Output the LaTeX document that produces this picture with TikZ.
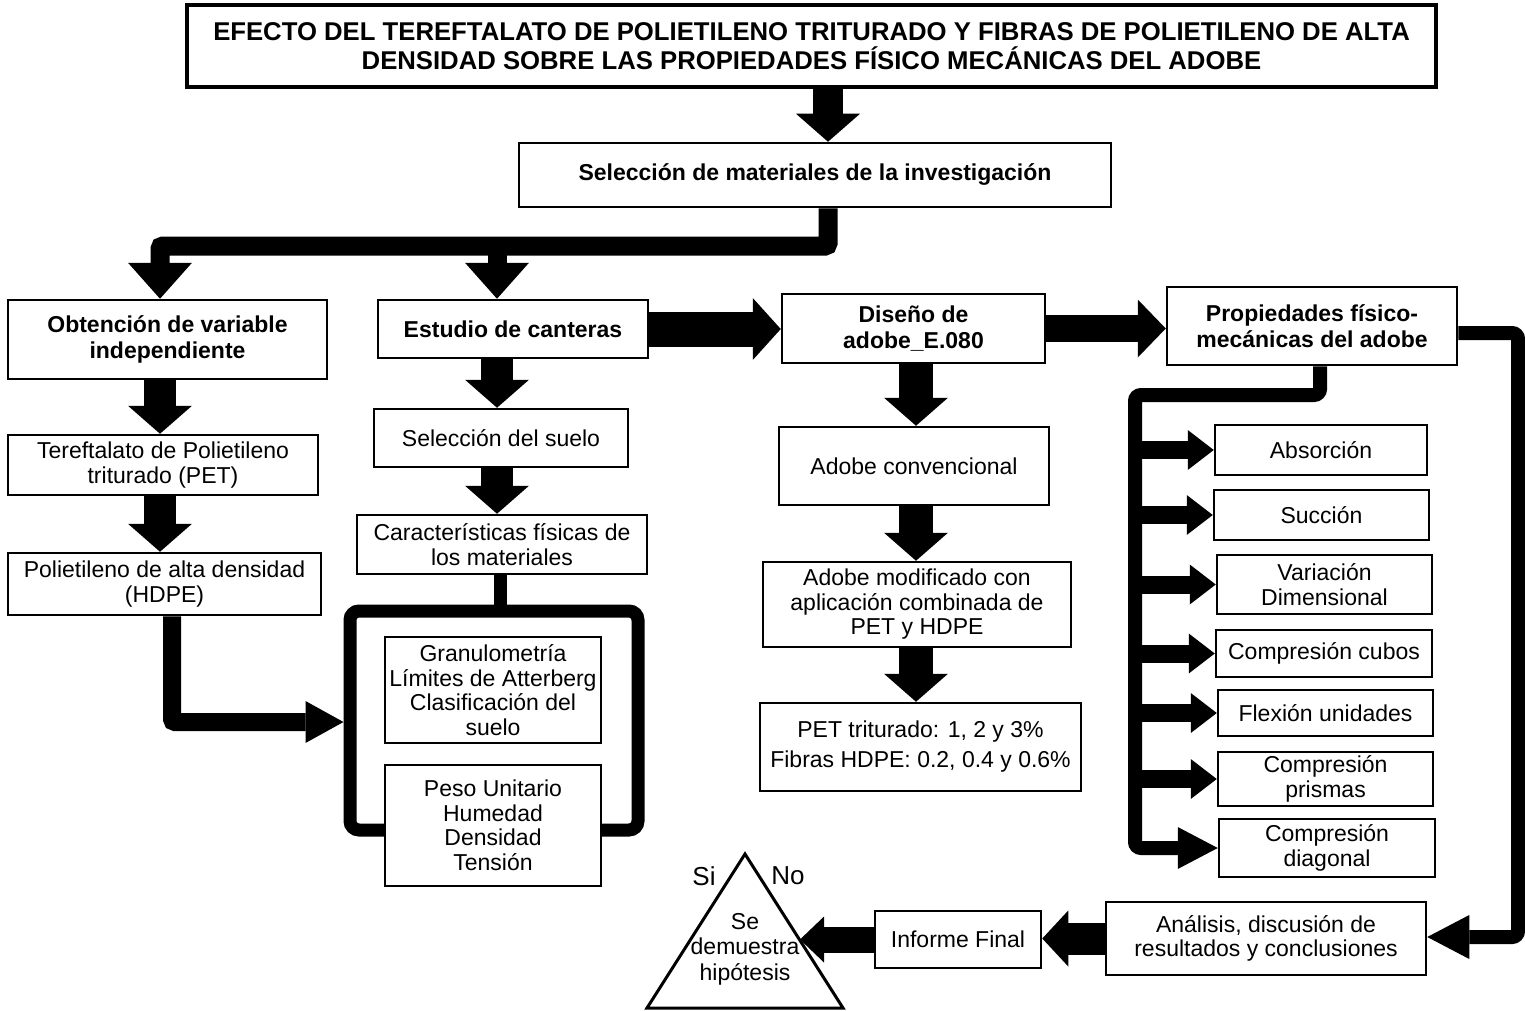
\documentclass[tikz,border=0pt]{standalone}
\usepackage{fontspec}
\setmainfont{Liberation Sans}
\usetikzlibrary{arrows.meta,calc}
\begin{document}
\begin{tikzpicture}[x=1pt,y=-1pt,
  box/.style={draw, line width=2.5pt, fill=white, align=center, inner sep=1pt,
    font=\fontsize{23}{24.5}\selectfont},
  bbox/.style={box, font=\bfseries\fontsize{23}{26}\selectfont},
  blk/.style={line width=34pt, -{Triangle[length=28pt,width=64pt,line width=0pt]}},
  bar/.style={line width=19pt, rounded corners=3pt, -{Triangle[length=36pt,width=64pt,line width=0pt]}},
  rline/.style={line width=14pt, rounded corners=6pt},
  sarr/.style={line width=18pt, -{Triangle[length=26pt,width=40pt,line width=0pt]}},
  lbl/.style={font=\fontsize{26}{28}\selectfont, inner sep=0pt}
]
\useasboundingbox (0,0) rectangle (1525,1011);

% column / row helpers
\coordinate (cT) at (828,0);
\coordinate (cL) at (160,0);
\coordinate (cLP) at (172,0);
\coordinate (cE) at (497,0);
\coordinate (cC) at (500,0);
\coordinate (cD) at (916,0);
\coordinate (cP) at (1320,0);
\coordinate (cB) at (1135,0);
\coordinate (cR) at (1518,0);
\coordinate (rBar) at (0,246);
\coordinate (rJ) at (0,722);
\coordinate (rB) at (0,395);
\coordinate (rPR) at (0,333);
\coordinate (rA) at (0,937);

% title and selection
\node[box, line width=4pt, font=\bfseries\fontsize{25.7}{29}\selectfont,
  minimum width=1249pt, minimum height=82pt] (title) at (811.5,46)
  {EFECTO DEL TEREFTALATO DE POLIETILENO TRITURADO Y FIBRAS DE POLIETILENO DE ALTA\\DENSIDAD SOBRE LAS PROPIEDADES FÍSICO MECÁNICAS DEL ADOBE};
\node[bbox, minimum width=592pt, minimum height=64pt] (sel) at (815,175)
  {Selección de materiales de la investigación};

% left column
\node[bbox, minimum width=319pt, minimum height=79pt] (obt) at (167.5,339.5)
  {Obtención de variable\\independiente};
\node[box, minimum width=310pt, minimum height=60pt] (ter) at (163,465)
  {Tereftalato de Polietileno\\triturado (PET)};
\node[box, minimum width=313pt, minimum height=62pt] (pol) at (164.5,584)
  {Polietileno de alta densidad\\(HDPE)};

% quarry column
\node[bbox, minimum width=270pt, minimum height=58pt] (est) at (513,329)
  {Estudio de canteras};
\node[box, minimum width=254pt, minimum height=58pt] (ssu) at (501,438)
  {Selección del suelo};
\node[box, minimum width=290pt, minimum height=59pt] (car) at (502,544.5)
  {Características físicas de\\los materiales};
\node[draw, line width=13pt, rounded corners=9pt, minimum width=288pt,
  minimum height=219pt, inner sep=0pt] (brk) at (494,720.5) {};
\node[box, minimum width=216pt, minimum height=106pt] (gra) at (493,690)
  {Granulometría\\Límites de Atterberg\\Clasificación del\\suelo};
\node[box, minimum width=216pt, minimum height=121pt] (pes) at (493,825.5)
  {Peso Unitario\\Humedad\\Densidad\\Tensión};

% design column
\node[bbox, minimum width=263pt, minimum height=69pt] (dis) at (913.5,328.5)
  {Diseño de\\adobe\_E.080};
\node[box, minimum width=270pt, minimum height=78pt] (conv) at (914,466)
  {Adobe convencional};
\node[box, minimum width=308pt, minimum height=85pt] (mod) at (917,604.5)
  {Adobe modificado con\\aplicación combinada de\\PET y HDPE};
\node[box, minimum width=321pt, minimum height=88pt,
  font=\fontsize{23}{30}\selectfont] (pet) at (920.5,747)
  {PET triturado: 1, 2 y 3\%\\Fibras HDPE: 0.2, 0.4 y 0.6\%};

% properties column
\node[bbox, minimum width=290pt, minimum height=78pt] (pro) at (1312,326)
  {Propiedades físico-\\mecánicas del adobe};
\node[box, minimum width=212pt, minimum height=50pt] (abs) at (1321,450) {Absorción};
\node[box, minimum width=215pt, minimum height=50pt] (suc) at (1321.5,515) {Succión};
\node[box, minimum width=215pt, minimum height=59pt] (var) at (1324.5,584.5) {Variación\\Dimensional};
\node[box, minimum width=216pt, minimum height=47pt] (cub) at (1324,653.5) {Compresión cubos};
\node[box, minimum width=215pt, minimum height=46pt] (fle) at (1325.5,713) {Flexión unidades};
\node[box, minimum width=215pt, minimum height=54pt] (pri) at (1325.5,779) {Compresión\\prismas};
\node[box, minimum width=216pt, minimum height=58pt] (dia) at (1327,848) {Compresión\\diagonal};

% bottom row
\node[box, minimum width=320pt, minimum height=73pt] (ana) at (1266,938.5)
  {Análisis, discusión de\\resultados y conclusiones};
\node[box, minimum width=166pt, minimum height=57pt] (inf) at (958,939.5)
  {Informe Final};
\coordinate (apex) at (745,854);
\coordinate (bR) at (843,1008);
\coordinate (bL) at (647,1008);
\draw[line width=3pt, line join=miter] (apex) -- (bR) -- (bL) -- cycle;
\node[align=center, font=\fontsize{23}{25.5}\selectfont, inner sep=0pt] (tri) at (745,949)
  {Se\\demuestra\\hipótesis};
\node[lbl] (si) at (704,876) {Si};
\node[lbl] (no) at (788,876) {No};
\coordinate (triR) at (800,939.5);

% connectors
\draw[blk, line width=30pt] (title.south -| cT) -- (sel.north -| cT);
\draw[bar] (sel.south -| cT) |- (rBar -| cL) -- (obt.north -| cL);
\draw[bar] (rBar -| cE) -- (est.north -| cE);
\draw[blk, line width=32pt] (obt.south -| cL) -- (ter.north -| cL);
\draw[blk, line width=32pt] (ter.south -| cL) -- (pol.north -| cL);
\draw[line width=18pt, rounded corners=3pt, -{Triangle[length=38pt,width=42pt,line width=0pt]}]
  (pol.south -| cLP) |- (brk.west |- rJ);
\draw[blk, line width=32pt] (est.south -| cE) -- (ssu.north -| cE);
\draw[blk, line width=32pt] (ssu.south -| cE) -- (car.north -| cE);
\draw[line width=13pt] (car.south -| cC) -- (brk.north -| cC);
\draw[blk, line width=35pt, -{Triangle[length=28pt,width=62pt,line width=0pt]}]
  (est.east) -- (dis.west |- est.east);
\draw[blk, line width=27pt, -{Triangle[length=28pt,width=58pt,line width=0pt]}]
  (dis.east) -- (pro.west |- dis.east);
\draw[blk] (dis.south -| cD) -- (conv.north -| cD);
\draw[blk] (conv.south -| cD) -- (mod.north -| cD);
\draw[blk] (mod.south -| cD) -- (pet.north -| cD);
\draw[rline, -{Triangle[length=42pt,width=44pt,line width=0pt]}]
  (pro.east |- rPR) -| (cR |- rA) -- (ana.east |- rA);
\draw[rline, -{Triangle[length=40pt,width=42pt,line width=0pt]}]
  (pro.south -| cP) |- (cB |- rB) |- (dia.west);
\foreach \n in {abs,suc,var,cub,fle,pri}
  \draw[sarr] (\n.west -| cB) -- (\n.west);
\draw[line width=32pt, -{Triangle[length=26pt,width=56pt,line width=0pt]}]
  (ana.west) -- (inf.east |- ana.west);
\draw[line width=26pt, -{Triangle[length=24pt,width=46pt,line width=0pt]}]
  (inf.west) -- (triR);
\end{tikzpicture}
\end{document}
